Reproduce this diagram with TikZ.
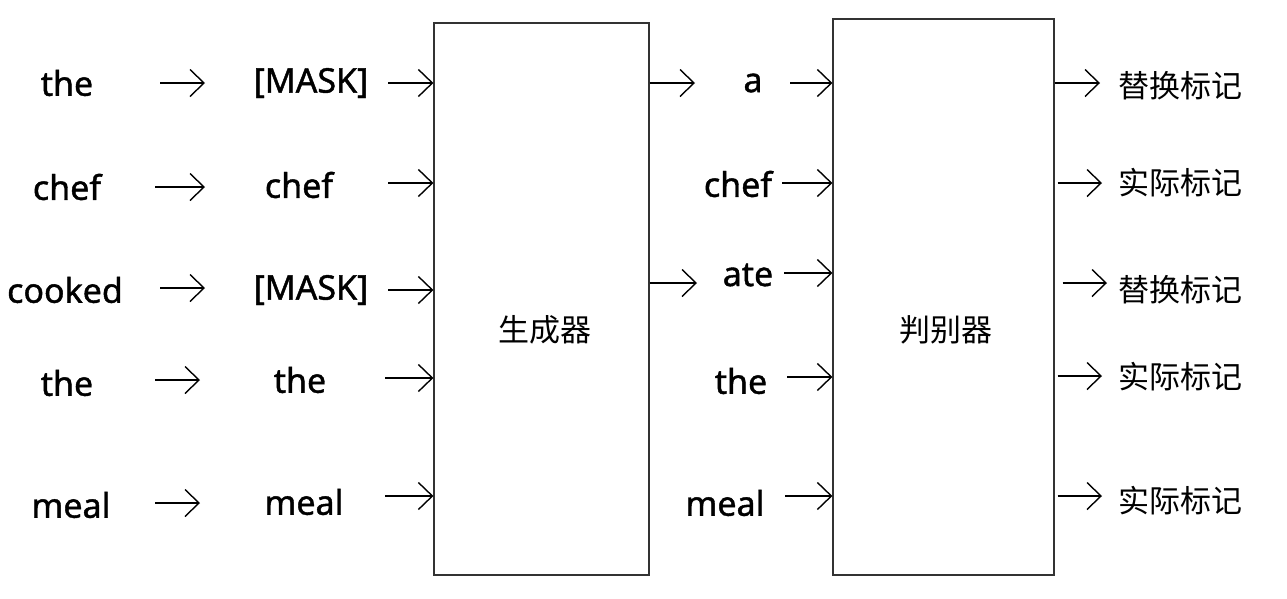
\documentclass[tikz,border=0pt]{standalone}
\usepackage{fontspec}
\setmainfont{Noto Sans}[FakeBold=1.2]
\newfontfamily\cjk{Noto Sans CJK SC}
\usetikzlibrary{arrows.meta,calc}

\begin{document}
\begin{tikzpicture}[x=1pt, y=-1pt,
    word/.style={inner sep=2pt, font=\fontsize{34}{40}\selectfont\bfseries},
    label/.style={inner sep=2pt, font=\cjk\fontsize{31}{36}\selectfont},
    block/.style={rectangle, draw=black!80, line width=1.2pt},
    tok/.style={-{Straight Barb[length=14pt, width=27pt, line width=1.4pt]}, line width=1.3pt}
]
\useasboundingbox (0,0) rectangle (1287,598);

% Blocks
\node (gen) [block, minimum width=215pt, minimum height=552pt] at (541.5,299) {};
\node (disc) [block, minimum width=221pt, minimum height=556pt] at (943.5,297) {};
\node (genlab) [label] at (545,330) {生成器};
\node (disclab) [label] at (946,330) {判别器};

% Input tokens
\node (in1) [word] at (67,83) {the};
\node (in2) [word] at (67,187) {chef};
\node (in3) [word] at (65,290) {cooked};
\node (in4) [word] at (67,383) {the};
\node (in5) [word] at (71,505) {meal};

% Masked tokens
\node (mk1) [word] at (311,83) {[MASK]};
\node (mk2) [word] at (299,185) {chef};
\node (mk3) [word] at (311,290) {[MASK]};
\node (mk4) [word] at (300,380) {the};
\node (mk5) [word] at (304,502) {meal};

% Generated tokens
\node (gt1) [word] at (753,83) {a};
\node (gt2) [word] at (738,184) {chef};
\node (gt3) [word] at (748,275) {ate};
\node (gt4) [word] at (741,381) {the};
\node (gt5) [word] at (725,503) {meal};

% Outputs
\node (lab1) [label] at (1180,86) {替换标记};
\node (lab2) [label] at (1180,183) {实际标记};
\node (lab3) [label] at (1180,290) {替换标记};
\node (lab4) [label] at (1180,377) {实际标记};
\node (lab5) [label] at (1180,501) {实际标记};

% Arrow ends
\coordinate (a1) at (160,83);  \coordinate (b1) at (205,83);
\coordinate (a2) at (155,187); \coordinate (b2) at (205,187);
\coordinate (a3) at (160,288); \coordinate (b3) at (205,288);
\coordinate (a4) at (155,380); \coordinate (b4) at (200,380);
\coordinate (a5) at (155,503); \coordinate (b5) at (200,503);
\coordinate (c1) at (388,83);
\coordinate (c2) at (388,183);
\coordinate (c3) at (388,290);
\coordinate (c4) at (385,378);
\coordinate (c5) at (385,496);
\coordinate (e1) at (695,83);
\coordinate (e3) at (697,283);
\coordinate (d1) at (790,83);
\coordinate (d2) at (782,183);
\coordinate (d3) at (784,273);
\coordinate (d4) at (787,377);
\coordinate (d5) at (785,496);
\coordinate (f1) at (1100,83);
\coordinate (f2) at (1102,183);
\coordinate (f3) at (1107,283);
\coordinate (f4) at (1102,376);
\coordinate (f5) at (1102,496);

% Connections
\draw[tok] (a1) -- (b1);
\draw[tok] (a2) -- (b2);
\draw[tok] (a3) -- (b3);
\draw[tok] (a4) -- (b4);
\draw[tok] (a5) -- (b5);
\draw[tok] (c1) -- (c1 -| gen.west);
\draw[tok] (c2) -- (c2 -| gen.west);
\draw[tok] (c3) -- (c3 -| gen.west);
\draw[tok] (c4) -- (c4 -| gen.west);
\draw[tok] (c5) -- (c5 -| gen.west);
\draw[tok] (e1 -| gen.east) -- (e1);
\draw[tok] (e3 -| gen.east) -- (e3);
\draw[tok] (d1) -- (d1 -| disc.west);
\draw[tok] (d2) -- (d2 -| disc.west);
\draw[tok] (d3) -- (d3 -| disc.west);
\draw[tok] (d4) -- (d4 -| disc.west);
\draw[tok] (d5) -- (d5 -| disc.west);
\draw[tok] (f1 -| disc.east) -- (f1);
\draw[tok] ([xshift=3pt]f2 -| disc.east) -- (f2);
\draw[tok] ([xshift=8pt]f3 -| disc.east) -- (f3);
\draw[tok] ([xshift=3pt]f4 -| disc.east) -- (f4);
\draw[tok] ([xshift=3pt]f5 -| disc.east) -- (f5);

\end{tikzpicture}
\end{document}
